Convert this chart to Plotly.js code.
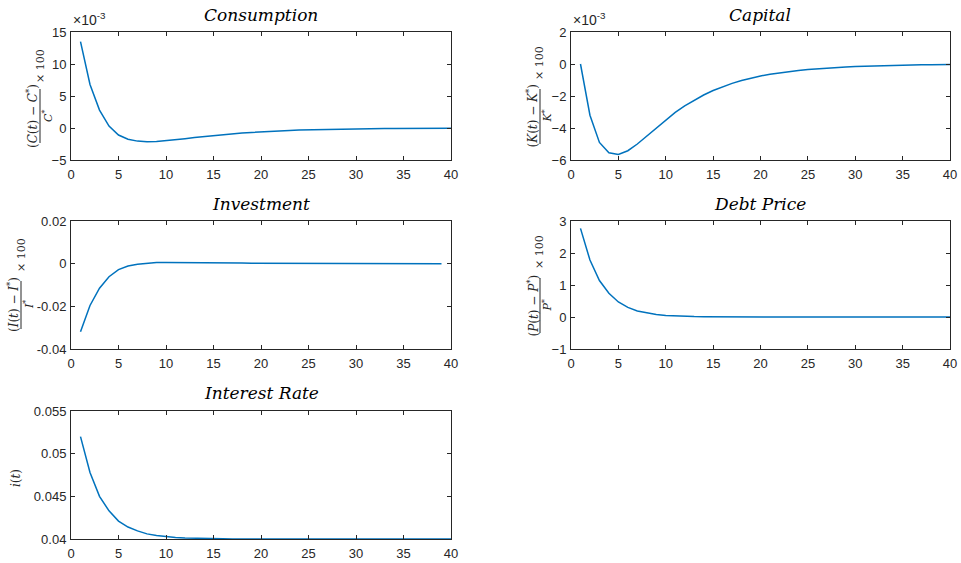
<!DOCTYPE html>
<html>
<head>
<meta charset="utf-8">
<script src="https://cdn.plot.ly/plotly-3.0.1.min.js"></script>
<style>html,body{margin:0;padding:0;background:#fff;}#chart{width:961px;height:563px;}</style>
</head>
<body>
<div id="chart"></div>
<script>
// ---- data ----
const periods = [1,2,3,4,5,6,7,8,9,10,11,12,13,14,15,16,17,18,19,20,21,22,23,24,25,26,27,28,29,30,31,32,33,34,35,36,37,38,39,40];
const periodsInv = [1,2,3,4,5,6,7,8,9,10,11,12,13,14,15,16,17,18,19,20,21,22,23,24,25,26,27,28,29,30,31,32,33,34,35,36,37,38,39];

// Consumption deviation (x 1e-3)
const consumption = [13.5,6.8,2.8,0.3,-1.1,-1.75,-2.05,-2.15,-2.1,-1.98,-1.83,-1.67,-1.5,-1.34,-1.19,-1.05,-0.92,-0.8,-0.7,-0.6,-0.52,-0.45,-0.39,-0.33,-0.29,-0.25,-0.21,-0.18,-0.15,-0.13,-0.11,-0.1,-0.08,-0.07,-0.06,-0.05,-0.04,-0.04,-0.03,-0.03];
// Capital deviation (x 1e-3)
const capital = [0,-3.2,-4.9,-5.55,-5.65,-5.42,-5.0,-4.5,-3.97,-3.47,-3.02,-2.62,-2.26,-1.94,-1.66,-1.42,-1.21,-1.03,-0.88,-0.75,-0.64,-0.55,-0.47,-0.4,-0.34,-0.29,-0.25,-0.21,-0.18,-0.15,-0.13,-0.11,-0.09,-0.08,-0.07,-0.06,-0.05,-0.04,-0.04,-0.03];
// Investment deviation
const investment = [-0.0319,-0.0196,-0.0115,-0.0061,-0.0028,-0.0011,-0.0003,0.0002,0.0005,0.0006,0.0006,0.0006,0.0005,0.0005,0.0004,0.0004,0.0003,0.0003,0.0002,0.0002,0.0002,0.0001,0.0001,0.0001,0.0001,0.0001,0.0000,0.0000,0.0000,0.0000,0.0000,0.0000,0.0000,0.0000,0.0000,0.0000,0.0000,0.0000,0.0000];
// Debt price deviation
const debtPrice = [2.77,1.78,1.14,0.74,0.47,0.3,0.19,0.13,0.08,0.05,0.03,0.02,0.013,0.008,0.005,0.003,0.002,0.001,0.001,0.0005,0,0,0,0,0,0,0,0,0,0,0,0,0,0,0,0,0,0,0,0];
// Interest rate
const interestRate = [0.0520,0.0478,0.0450,0.0433,0.0421,0.0414,0.04095,0.0406,0.04042,0.04028,0.04018,0.04012,0.04008,0.04005,0.04003,0.04002,0.04001,0.04001,0.04,0.04,0.04,0.04,0.04,0.04,0.04,0.04,0.04,0.04,0.04,0.04,0.04,0.04,0.04,0.04,0.04,0.04,0.04,0.04,0.04,0.04];

const titles = ['Consumption','Capital','Investment','Debt Price','Interest Rate'];
const xTicks = [0,5,10,15,20,25,30,35,40];
const yTicks1 = [-5,0,5,10,15];
const yTicks2 = [-6,-4,-2,0,2];
const yTicks3 = [-0.04,-0.02,0,0.02];
const yTickText3 = ['-0.04','-0.02','0','0.02'];
const yTicks4 = [-1,0,1,2,3];
const yTicks5 = [0.04,0.045,0.05,0.055];
const yTickText5 = ['0.04','0.045','0.05','0.055'];

// ---- layout helpers ----
const W = 961, H = 563;
const px = x => x / W;
const py = y => 1 - y / H;
const lineColor = '#0072BD';
const axColor = '#262626';
const tickFont = {family: 'Liberation Sans, Arial, sans-serif', size: 13, color: axColor};

function xaxis(dom, anchor) {
  return {domain: dom, anchor: anchor, range: [0, 40], tickvals: xTicks, ticks: 'inside', ticklen: 4,
    tickcolor: axColor, showline: true, linecolor: axColor, linewidth: 1, mirror: 'allticks',
    showgrid: false, zeroline: false, tickfont: tickFont, ticklabelstandoff: 2};
}
function yaxis(dom, anchor, range, vals, text) {
  const o = {domain: dom, anchor: anchor, range: range, tickvals: vals, ticks: 'inside', ticklen: 4,
    tickcolor: axColor, showline: true, linecolor: axColor, linewidth: 1, mirror: 'allticks',
    showgrid: false, zeroline: false, tickfont: tickFont, ticklabelstandoff: 1};
  if (text) o.ticktext = text;
  return o;
}

const xL = [px(71), px(451)], xR = [px(571), px(950)];
const y1 = [py(160), py(32)], y2 = [py(349), py(221)], y3 = [py(539), py(411)];

const traces = [
  {x: periods, y: consumption, xaxis: 'x', yaxis: 'y'},
  {x: periods, y: capital, xaxis: 'x2', yaxis: 'y2'},
  {x: periodsInv, y: investment, xaxis: 'x3', yaxis: 'y3'},
  {x: periods, y: debtPrice, xaxis: 'x4', yaxis: 'y4'},
  {x: periods, y: interestRate, xaxis: 'x5', yaxis: 'y5'}
].map(t => Object.assign(t, {type: 'scatter', mode: 'lines', line: {color: lineColor, width: 1.5, shape: 'linear'}, hoverinfo: 'skip'}));

const serif = 'DejaVu Serif, serif';
const ann = [];
const titlePos = [[261, 15], [760, 15], [261, 204], [760, 204], [261, 393]];
titles.forEach((t, i) => ann.push({xref: 'paper', yref: 'paper', x: px(titlePos[i][0]), y: py(titlePos[i][1]),
  xanchor: 'center', yanchor: 'middle', showarrow: false, text: '<i>' + t + '</i>', font: {family: serif, size: 17, color: '#000'}}));

// exponent labels
[71, 571].forEach(x => ann.push({xref: 'paper', yref: 'paper', x: px(x), y: py(30), xanchor: 'left', yanchor: 'bottom',
  showarrow: false, text: '×10<sup>-3</sup>', font: {family: 'Liberation Sans, Arial, sans-serif', size: 14, color: axColor}}));

// fraction y labels
const shapes = [];
function fracLabel(num, den, xBar, yTop, yBot, xNum, xDen, yTimes) {
  const yc = (yTop + yBot) / 2;
  ann.push({xref: 'paper', yref: 'paper', x: px(xNum), y: py(yc), xanchor: 'center', yanchor: 'middle', textangle: -90,
    showarrow: false, text: num, font: {family: serif, size: 12, color: axColor}});
  ann.push({xref: 'paper', yref: 'paper', x: px(xDen), y: py(yc), xanchor: 'center', yanchor: 'middle', textangle: -90,
    showarrow: false, text: den, font: {family: serif, size: 11, color: axColor}});
  ann.push({xref: 'paper', yref: 'paper', x: px(xBar), y: py(yTimes), xanchor: 'center', yanchor: 'middle', textangle: -90,
    showarrow: false, text: '× 100', font: {family: serif, size: 11, color: axColor}});
  shapes.push({type: 'line', xref: 'paper', yref: 'paper', x0: px(xBar), x1: px(xBar), y0: py(yTop), y1: py(yBot),
    line: {color: axColor, width: 1}});
}
fracLabel('(<i>C</i>(<i>t</i>) − <i>C</i><sup>*</sup>)', '<i>C</i><sup>*</sup>', 40, 89, 143, 32, 47, 66);
fracLabel('(<i>K</i>(<i>t</i>) − <i>K</i><sup>*</sup>)', '<i>K</i><sup>*</sup>', 540, 89, 144, 532, 547, 63);
fracLabel('(<i>I</i>(<i>t</i>) − <i>I</i><sup>*</sup>)', '<i>I</i><sup>*</sup>', 21, 281, 329, 13, 28, 255);
fracLabel('(<i>P</i>(<i>t</i>) − <i>P</i><sup>*</sup>)', '<i>P</i><sup>*</sup>', 540, 278, 333, 532, 547, 252);
ann.push({xref: 'paper', yref: 'paper', x: px(16), y: py(478), xanchor: 'center', yanchor: 'middle', textangle: -90,
  showarrow: false, text: '<i>i</i>(<i>t</i>)', font: {family: serif, size: 12, color: axColor}});

const layout = {
  width: W, height: H, margin: {l: 0, r: 0, t: 0, b: 0}, paper_bgcolor: '#fff', plot_bgcolor: '#fff',
  showlegend: false,
  xaxis: xaxis(xL, 'y'), yaxis: yaxis(y1, 'x', [-5, 15], yTicks1),
  xaxis2: xaxis(xR, 'y2'), yaxis2: yaxis(y1, 'x2', [-6, 2], yTicks2),
  xaxis3: xaxis(xL, 'y3'), yaxis3: yaxis(y2, 'x3', [-0.04, 0.02], yTicks3, yTickText3),
  xaxis4: xaxis(xR, 'y4'), yaxis4: yaxis(y2, 'x4', [-1, 3], yTicks4),
  xaxis5: xaxis(xL, 'y5'), yaxis5: yaxis(y3, 'x5', [0.04, 0.055], yTicks5, yTickText5),
  annotations: ann, shapes: shapes
};
Plotly.newPlot('chart', traces, layout, {staticPlot: true, displayModeBar: false});
</script>
</body>
</html>
